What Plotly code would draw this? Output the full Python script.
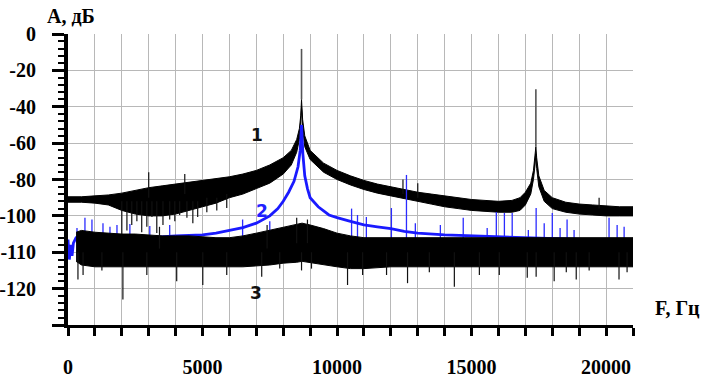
import plotly.graph_objects as go

# ---------------- data (axis units) ----------------
# Curve 1 (black): upper / lower envelope of the noisy spectrum
f1 = [0, 500, 1000, 1500, 2000, 2500, 3000, 3500, 4000, 4500, 5000, 5500, 6000, 6500,
      7000, 7500, 8000, 8300, 8500, 8600, 8650, 8680, 8720, 8800, 9000, 9500, 10000,
      10500, 11000, 11500, 12000, 12500, 13000, 13500, 14000, 14500, 15000, 15500,
      16000, 16500, 16800, 17000, 17200, 17300, 17360, 17390, 17420, 17500, 17700,
      18000, 18500, 19000, 19500, 20000, 20500, 21000]
top1 = [-89.5, -89.5, -89, -88.5, -87.5, -86, -84.5, -83.5, -82.5, -81.5, -80.5, -79.5,
        -78.5, -77, -75, -72, -68, -64, -58, -52, -45, -36, -47, -56, -64, -71, -75,
        -78, -80.5, -82.5, -84, -85.5, -87, -88, -89, -90, -91, -91.5, -92, -91.5, -90,
        -87, -82, -75, -66, -62, -68, -78, -86, -90, -92.5, -93.5, -94, -94.5, -95, -95]
bot1 = [-92.5, -92.5, -93, -94, -97, -99, -100, -100, -99, -97, -95, -93, -90, -88,
        -85, -82, -77, -72, -65, -58, -50, -40, -52, -62, -69, -76, -80, -83, -85.5,
        -87.5, -89, -90.5, -92, -93.5, -95, -96, -97, -97.5, -98, -98, -97, -94, -88,
        -80, -72, -66, -74, -84, -92, -96, -98, -99, -99.5, -100, -100, -100]
# Curve 1 spikes: frequency, start, end
s1_f = [2000, 2190, 2370, 2560, 2740, 2930, 3120, 3300, 3530, 3780, 3970, 4150, 4420,
        4640, 4820, 5160, 5530, 5900, 3000, 4340, 13000, 19740, 12450]
s1_a = [-92, -92, -92, -92, -92, -92, -92, -92, -92, -92, -92, -92, -92, -92, -92, -90,
        -90, -88, -90, -88, -90, -96, -88]
s1_b = [-111, -108, -105, -103, -109, -106, -100.6, -109.4, -105, -102, -103, -99.5,
        -101, -104, -100.6, -98, -97, -95.7, -76, -77, -82, -90, -80]
# Thin tips of the two resonance peaks
tip_f = [8680, 17390]
tip_a = [-36, -62]
tip_b = [-8.2, -30.4]

# Curve 2 (blue)
f2 = [0, 50, 100, 150, 200, 300, 400, 500, 1000, 2000, 3000, 4000, 5000, 5500, 6000,
      6500, 7000, 7500, 7800, 8000, 8200, 8400, 8550, 8630, 8680, 8730, 8800, 8900,
      9000, 9300, 9700, 10000, 10500, 11000, 11500, 12000, 12500, 13000, 14000, 15000,
      16000, 17000, 18000, 19000, 20000, 21000]
a2 = [-113, -124, -116, -122, -115, -112, -111.5, -111.5, -112, -112.5, -112, -111,
      -110.5, -109.5, -108, -106.5, -104, -100, -96, -92, -87, -81, -73, -64, -50, -66,
      -78, -85, -90, -95, -99.5, -101, -103, -105, -106, -107, -108.5, -109.5, -110.5,
      -111, -111.5, -112, -112.5, -113, -113, -113]
# Blue spikes: frequency, top
s2_f = [334, 630, 890, 1300, 1560, 1820, 2300, 3040, 3780, 6490, 7500, 10540, 10760,
        11090, 12020, 12580, 12910, 13840, 14690, 15580, 15920, 16220, 16510, 17110,
        17400, 17700, 18000, 18290, 18550, 18810, 20110, 20410, 20670]
s2_b = [-106.7, -101, -102, -104, -106, -105, -104.5, -105.5, -105, -102, -103, -96,
        -99.5, -100.6, -95.7, -77.5, -104, -105, -101, -106.7, -97.9, -98.4, -98.4,
        -107.8, -95.7, -104, -98.4, -106.7, -102, -107.8, -101, -105, -106]

# Curve 3 (black): upper / lower envelope
f3 = [300, 500, 1000, 1500, 2000, 2500, 3000, 3500, 4000, 4500, 5000, 5500, 6000, 6500,
      7000, 7500, 8000, 8500, 8700, 9000, 9500, 10000, 10500, 11000, 12000, 13000,
      14000, 15000, 16000, 17000, 18000, 19000, 20000, 21000]
top3 = [-109, -108, -109, -109.5, -110, -110, -110.5, -111, -111, -111, -111.5, -112,
        -112, -111, -109.5, -108, -106.5, -105, -104, -105, -107, -109.5, -111, -112,
        -112, -112, -112, -112, -112, -112, -112, -112, -112, -112]
bot3 = [-125, -127, -128, -128, -128, -128, -128, -128, -128, -128, -128, -128, -128,
        -128, -127.5, -127, -126, -125.5, -125, -126, -127, -128, -129, -129, -128,
        -128, -128, -128, -128, -128, -128, -128, -128, -128]
# Curve 3 spikes: frequency, start, end
s3_f = [370, 560, 1260, 2040, 2930, 4040, 5010, 5900, 7200, 7870, 8680, 9050, 10390,
        10950, 11840, 12620, 13430, 14360, 15290, 16030, 17070, 17400, 18070, 18520,
        18890, 19370, 20480, 20780, 8500, 8900, 7400, 3400]
s3_a = [-120] * 28 + [-115, -115, -118, -118]
s3_b = [-135, -132.5, -130, -146, -132.5, -136, -138, -132.5, -133.5, -129, -130, -129,
        -138, -132.5, -132.5, -137, -131, -139, -132.5, -132.5, -134, -133.5, -136,
        -131, -135, -130, -135, -131, -101, -102, -105, -106]

# Axis ticks
x_ticks = list(range(0, 21001, 1000))
x_labels = [str(v) if v % 5000 == 0 else "" for v in x_ticks]
y_ticks = [0, -20, -40, -60, -80, -100, -120, -140, -160]
y_labels = ["0", "-20", "-40", "-60", "-80", "-100", "-110", "-120", ""]


def segs(fs, a, b):
    xs, ys = [], []
    for f, p, q in zip(fs, a, b):
        xs += [f, f, None]
        ys += [p, q, None]
    return xs, ys


def band(fs, top, bot):
    return list(fs) + list(fs)[::-1], list(top) + list(bot)[::-1]


fig = go.Figure()

bx, by = band(f1, top1, bot1)
fig.add_trace(go.Scatter(x=bx, y=by, fill="toself", fillcolor="black",
                         line=dict(color="black", width=1), mode="lines"))
sx, sy = segs(s1_f, s1_a, s1_b)
fig.add_trace(go.Scatter(x=sx, y=sy, mode="lines", line=dict(color="#111", width=1.2)))
tx, ty = segs(tip_f, tip_a, tip_b)
fig.add_trace(go.Scatter(x=tx, y=ty, mode="lines", line=dict(color="#555", width=1.6)))

bsx, bsy = segs(s2_f, [-115] * len(s2_f), s2_b)
fig.add_trace(go.Scatter(x=bsx, y=bsy, mode="lines", line=dict(color="#2b2bff", width=1.3)))
fig.add_trace(go.Scatter(x=f2, y=a2, mode="lines", line=dict(color="#1a1aff", width=2.8)))

bx3, by3 = band(f3, top3, bot3)
fig.add_trace(go.Scatter(x=bx3, y=by3, fill="toself", fillcolor="black",
                         line=dict(color="black", width=1), mode="lines"))
sx3, sy3 = segs(s3_f, s3_a, s3_b)
fig.add_trace(go.Scatter(x=sx3, y=sy3, mode="lines", line=dict(color="#111", width=1.2)))

lab_font = dict(family="Liberation Serif", size=20, color="black")
num_font = dict(family="DejaVu Sans", size=17, color="#111")

fig.update_layout(
    width=709, height=378, showlegend=False,
    paper_bgcolor="white", plot_bgcolor="white",
    margin=dict(l=68, r=76, t=34, b=53, autoexpand=False),
    xaxis=dict(range=[0, 21000], tickvals=x_ticks, ticktext=x_labels, automargin=False,
               showgrid=True, gridcolor="#b8b8b8", gridwidth=1.3,
               showline=True, linecolor="black", linewidth=3, zeroline=False,
               ticks="outside", ticklen=8, tickwidth=3, tickcolor="black",
               ticklabelstandoff=14,
               tickfont=dict(family="Liberation Serif", size=20, color="black", weight="bold")),
    yaxis=dict(range=[-160, 0], tickvals=y_ticks, ticktext=y_labels, automargin=False,
               showgrid=True, gridcolor="#b8b8b8", gridwidth=1.3,
               showline=True, linecolor="black", linewidth=4, zeroline=False,
               ticks="outside", ticklen=12, tickwidth=3, tickcolor="black",
               ticklabelstandoff=12,
               minor=dict(dtick=4, ticks="outside", ticklen=6, tickwidth=2,
                          tickcolor="black", showgrid=False),
               tickfont=dict(family="Liberation Serif", size=20, color="black", weight="bold")),
    annotations=[
        dict(text="<b>A, дБ</b>", xref="paper", yref="paper", x=-0.04, y=1.0,
             xanchor="left", yanchor="bottom", yshift=5, showarrow=False, font=lab_font),
        dict(text="<b>F, Гц</b>", xref="paper", yref="paper", x=1.035, y=0.06,
             xanchor="left", yanchor="middle", showarrow=False, font=lab_font),
        dict(text="<b>1</b>", x=7010, y=-55.5, showarrow=False, font=num_font),
        dict(text="<b>2</b>", x=7200, y=-97.3, showarrow=False,
             font=dict(family="DejaVu Sans", size=17, color="#2020ff")),
        dict(text="<b>3</b>", x=6990, y=-142.4, showarrow=False, font=num_font),
    ],
)

fig.write_html(
    "out.html",
    config={"displayModeBar": False},
    post_script="document.body.style.margin='0';document.body.style.overflow='hidden';",
)
